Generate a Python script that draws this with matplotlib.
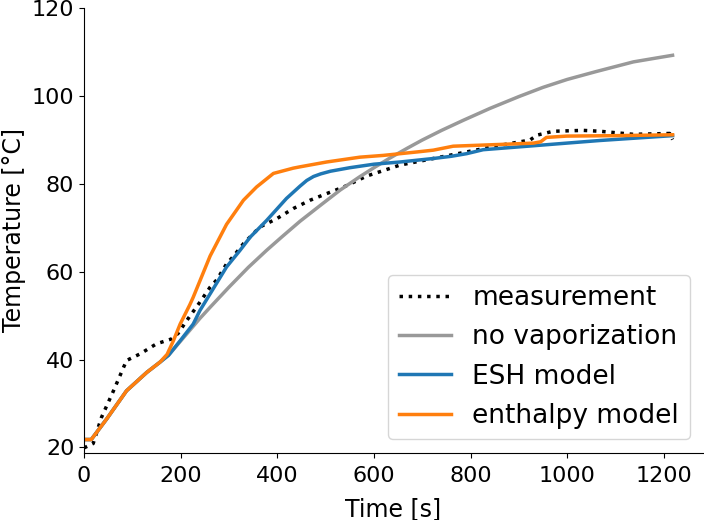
import matplotlib
matplotlib.use("Agg")
import matplotlib.pyplot as plt

# Measurement (dotted)
t_meas = [0, 19, 36, 61, 88, 116, 150, 181, 195, 212, 240, 261, 275, 295, 309, 330, 364, 399, 433,
          468, 502, 537, 568, 585, 654, 723, 792, 861, 923, 937, 971, 1033, 1068, 1137, 1212, 1218]
T_meas = [19.9, 20.9, 26.8, 32.9, 39.8, 41.3, 43.6, 44.7, 46.0, 48.8, 53.1, 56.5, 58.2, 61.8, 63.5, 66.4, 70.2, 72.1, 74.4,
          76.3, 77.8, 79.3, 80.9, 81.8, 84.3, 85.8, 87.3, 88.8, 90.0, 91.1, 92.0, 92.2, 92.0, 91.3, 91.5, 90.1]

# No vaporization (gray)
t_novap = [0, 15, 47, 88, 130, 157, 175, 195, 216, 240, 260, 300, 340, 378, 410, 447, 490, 530, 570, 600,
           633, 670, 700, 740, 785, 840, 900, 950, 1000, 1060, 1137, 1180, 1218]
T_novap = [21.8, 21.8, 26.5, 32.9, 37.1, 39.4, 41.0, 43.6, 46.3, 49.4, 51.8, 56.5, 61.0, 64.9, 68.0, 71.5, 75.2, 78.6, 81.6, 83.7,
           85.9, 88.2, 90.0, 92.2, 94.5, 97.2, 99.9, 102.0, 103.8, 105.6, 107.8, 108.6, 109.3]

# ESH model (blue)
t_esh = [0, 15, 47, 88, 130, 157, 175, 199, 226, 240, 295, 323, 344, 378, 419, 447, 461, 475, 490, 510, 550, 600,
         654, 723, 760, 792, 826, 930, 1068, 1218]
T_esh = [21.8, 21.8, 26.5, 32.9, 37.1, 39.4, 41.0, 44.3, 48.1, 51.2, 61.1, 64.9, 67.9, 71.7, 76.7, 79.5, 80.8, 81.7, 82.3, 82.9, 83.7, 84.5,
         85.0, 85.8, 86.3, 86.9, 87.8, 88.7, 89.9, 91.0]

# Enthalpy model (orange)
t_enth = [0, 15, 47, 88, 130, 157, 172, 185, 199, 219, 226, 261, 295, 330, 357, 392, 433, 447, 502, 571, 619,
          690, 723, 764, 861, 930, 945, 957, 999, 1100, 1218]
T_enth = [21.8, 21.8, 26.5, 32.9, 37.1, 39.4, 41.2, 44.3, 48.1, 52.5, 54.2, 63.6, 70.8, 76.3, 79.3, 82.4, 83.6, 83.9, 85.0, 86.1, 86.5,
          87.3, 87.7, 88.6, 89.0, 89.3, 89.6, 90.6, 90.9, 91.0, 91.2]

fig = plt.figure(figsize=(7.04, 5.2), dpi=100)
ax = fig.add_axes([84/704, 1 - 452.5/520, (703 - 84)/704, (452.5 - 8.3)/520])

lw = 2.5
ax.plot(t_meas, T_meas, ':', color='black', lw=lw, label='measurement')
ax.plot(t_novap, T_novap, '-', color='#999999', lw=lw, label='no vaporization')
ax.plot(t_esh, T_esh, '-', color='#1f77b4', lw=lw, label='ESH model')
ax.plot(t_enth, T_enth, '-', color='#ff7f0e', lw=lw, label='enthalpy model')

ax.set_xlim(0, 1281)
ax.set_ylim(18.85, 120)
ax.set_xticks([0, 200, 400, 600, 800, 1000, 1200])
ax.set_yticks([20, 40, 60, 80, 100, 120])
ax.tick_params(labelsize=16)
ax.tick_params(axis='x', pad=6)
ax.set_xlabel('Time [s]', fontsize=17, labelpad=8)
ax.set_ylabel('Temperature [°C]', fontsize=17)
ax.spines['top'].set_visible(False)
ax.spines['right'].set_visible(False)
ax.legend(loc='lower right', fontsize=19)

fig.savefig('out.png', dpi=100)
